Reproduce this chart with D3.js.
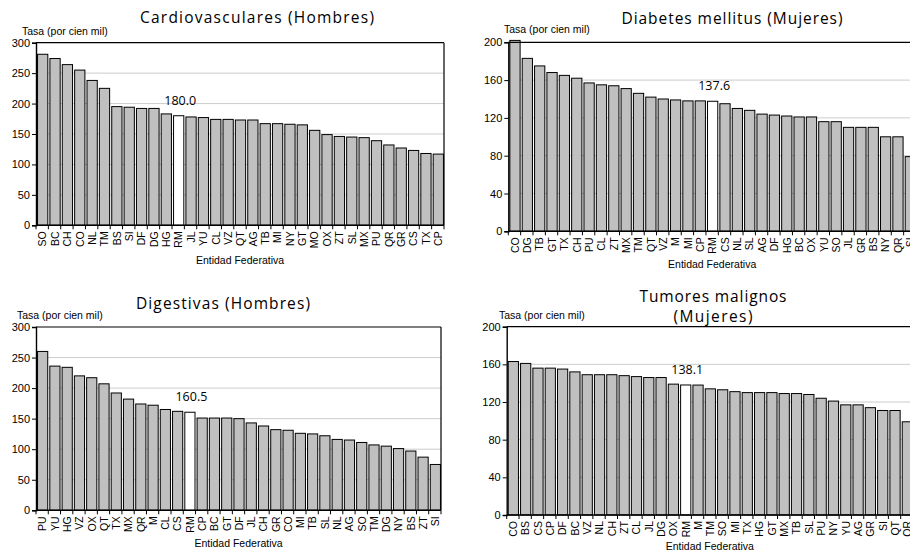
<!DOCTYPE html>
<html>
<head>
<meta charset="utf-8">
<script src="https://cdn.jsdelivr.net/npm/d3@7"></script>
<style>
  body { margin: 0; background: #fff; }
  svg { display: block; background: #fff; }
</style>
</head>
<body>
<svg id="chart" width="910" height="552"></svg>
<script>
// Mortality rates per 100,000 by federal entity; RM is the national reference.
const cardioStates = ["SO","BC","CH","CO","NL","TM","BS","SI","DF","DG","HG","RM","JL","YU","CL","VZ","QT","AG","TB","MI","NY","GT","MO","OX","ZT","SL","MX","PU","QR","GR","CS","TX","CP"];
const cardioRates  = [281,274,264,255,238,225,195,194,192,192,183,180.0,178,177,174,174,173,173,167,167,166,165,156,149,146,145,144,139,132,127,123,118,117];

const diabetesStates = ["CO","DG","TB","GT","TX","CH","PU","CL","ZT","MX","TM","QT","VZ","M","MI","CP","RM","CS","NL","SL","AG","DF","HG","BC","OX","YU","SO","JL","GR","BS","NY","QR","SI"];
const diabetesRates  = [202,183,175,168,165,162,157,155,154,151,146,142,140,139,138,138,137.6,135,130,128,124,123,122,121,121,116,116,110,110,110,100,100,79];

const digestStates = ["PU","YU","HG","VZ","OX","QT","TX","MX","QR","M","CL","CS","RM","CP","BC","GT","DF","JL","CH","GR","CO","MI","TB","SL","NL","AG","SO","TM","DG","NY","BS","ZT","SI"];
const digestRates  = [260,236,234,220,217,207,192,182,174,172,165,162,160.5,151,151,151,150,143,138,132,131,126,125,122,116,115,111,107,105,101,97,87,75];

const tumorStates = ["CO","BS","CS","CP","DF","BC","VZ","NL","CH","ZT","CL","JL","DG","OX","RM","M","TM","SO","MI","TX","HG","GT","MX","TB","SL","PU","NY","YU","AG","GR","SI","QT","QR"];
const tumorRates  = [163,161,156,156,155,152,149,149,149,148,147,146,146,139,138.1,138,134,133,131,130,130,130,129,129,128,124,121,117,117,114,111,111,99];

const ticks300 = [0,50,100,150,200,250,300];
const ticks200 = [0,40,80,120,160,200];

const referenceState = "RM";
const yTitle = "Tasa (por cien mil)";
const xTitle = "Entidad Federativa";

const panels = [
  { title: ["Cardiovasculares (Hombres)"], titleX: 257, titleY: [23], titleW: [234],
    states: cardioStates, rates: cardioRates, ticks: ticks300,
    left: 36, right: 444, top: 42.7, bottom: 225.3, yLabelX: 22, yLabelY: 35, xLabelY: 264 },
  { title: ["Diabetes mellitus (Mujeres)"], titleX: 732, titleY: [24], titleW: [221],
    states: diabetesStates, rates: diabetesRates, ticks: ticks200,
    left: 508.3, right: 916, top: 42.3, bottom: 231.3, yLabelX: 504, yLabelY: 33, xLabelY: 268 },
  { title: ["Digestivas (Hombres)"], titleX: 223, titleY: [309], titleW: [174],
    states: digestStates, rates: digestRates, ticks: ticks300,
    left: 36, right: 441, top: 327, bottom: 510.3, yLabelX: 17, yLabelY: 319, xLabelY: 547 },
  { title: ["Tumores malignos", "(Mujeres)"], titleX: 713, titleY: [301.5, 322], titleW: [147, 79],
    states: tumorStates, rates: tumorRates, ticks: ticks200,
    left: 506.7, right: 913, top: 326.7, bottom: 515, yLabelX: 499, yLabelY: 319, xLabelY: 550 }
];

const svg = d3.select("#chart");
const sans = "'Liberation Sans', Arial, sans-serif";
const titleFont = "'Open Sans', 'Noto Sans', sans-serif";

panels.forEach(p => {
  const g = svg.append("g");
  const x = d3.scaleBand().domain(p.states).range([p.left, p.right]).paddingInner(0.17).paddingOuter(0.085);
  const y = d3.scaleLinear().domain([0, d3.max(p.ticks)]).range([p.bottom, p.top]);

  // horizontal gridlines
  g.append("g").selectAll("line").data(p.ticks.filter(t => t > 0 && t < d3.max(p.ticks)))
    .join("line")
    .attr("x1", p.left).attr("x2", p.right)
    .attr("y1", d => y(d)).attr("y2", d => y(d))
    .attr("stroke", "#cccccc").attr("stroke-width", 1);

  // bars
  const data = p.states.map((s, i) => ({ s, v: p.rates[i] }));
  g.append("g").selectAll("rect").data(data).join("rect")
    .attr("x", d => x(d.s) + 0.5)
    .attr("y", d => y(d.v))
    .attr("width", x.bandwidth())
    .attr("height", d => y(0) - y(d.v))
    .attr("fill", d => d.s === referenceState ? "#ffffff" : "#c0c0c0")
    .attr("stroke", "#000").attr("stroke-width", 1);

  // frame: top and right edges
  g.append("line").attr("x1", p.left).attr("x2", p.right).attr("y1", p.top).attr("y2", p.top)
    .attr("stroke", "#000").attr("stroke-width", 1.2);
  g.append("line").attr("x1", p.right).attr("x2", p.right).attr("y1", p.top).attr("y2", p.bottom)
    .attr("stroke", "#000").attr("stroke-width", 1.2);

  // y axis
  const yAxis = g.append("g").attr("transform", `translate(${p.left},0)`)
    .call(d3.axisLeft(y).tickValues(p.ticks).tickSize(4).tickPadding(2).tickFormat(d3.format("d")));
  yAxis.select(".domain").attr("stroke-width", 1.4);
  yAxis.selectAll("text").attr("font-family", sans).attr("font-size", "11px").attr("fill", "#000");

  // x axis with ticks between categories
  g.append("line").attr("x1", p.left).attr("x2", p.right).attr("y1", p.bottom).attr("y2", p.bottom)
    .attr("stroke", "#000").attr("stroke-width", 1.4);
  const bounds = d3.range(p.states.length + 1).map(i => p.left + i * (p.right - p.left) / p.states.length);
  g.append("g").selectAll("line").data(bounds).join("line")
    .attr("x1", d => d).attr("x2", d => d)
    .attr("y1", p.bottom).attr("y2", p.bottom + 4)
    .attr("stroke", "#000").attr("stroke-width", 1);

  g.append("g").selectAll("text").data(p.states).join("text")
    .attr("transform", d => `translate(${x(d) + x.bandwidth() / 2 + 0.5},${p.bottom + 6}) rotate(-90)`)
    .attr("dy", "0.36em")
    .attr("text-anchor", "end")
    .attr("font-family", sans).attr("font-size", "10.5px").attr("fill", "#000")
    .text(d => d);

  // value label over the reference bar
  const ref = data.find(d => d.s === referenceState);
  g.append("text")
    .attr("x", x(ref.s) + x.bandwidth() / 2 + 2)
    .attr("y", y(ref.v) - 11)
    .attr("text-anchor", "middle")
    .attr("font-family", titleFont).attr("font-size", "12.5px").attr("fill", "#000")
    .text(ref.v.toFixed(1));

  // axis titles
  g.append("text").attr("x", p.yLabelX).attr("y", p.yLabelY)
    .attr("font-family", sans).attr("font-size", "10.5px").attr("fill", "#000")
    .text(yTitle);
  g.append("text").attr("x", (p.left + p.right) / 2).attr("y", p.xLabelY)
    .attr("text-anchor", "middle")
    .attr("font-family", sans).attr("font-size", "10.5px").attr("fill", "#000")
    .text(xTitle);

  // chart title
  p.title.forEach((t, i) => {
    g.append("text")
      .attr("x", p.titleX - p.titleW[i] / 2).attr("y", p.titleY[i])
      .attr("textLength", p.titleW[i]).attr("lengthAdjust", "spacing")
      .attr("font-family", titleFont).attr("font-size", "15.5px").attr("fill", "#000")
      .text(t);
  });
});
</script>
</body>
</html>
